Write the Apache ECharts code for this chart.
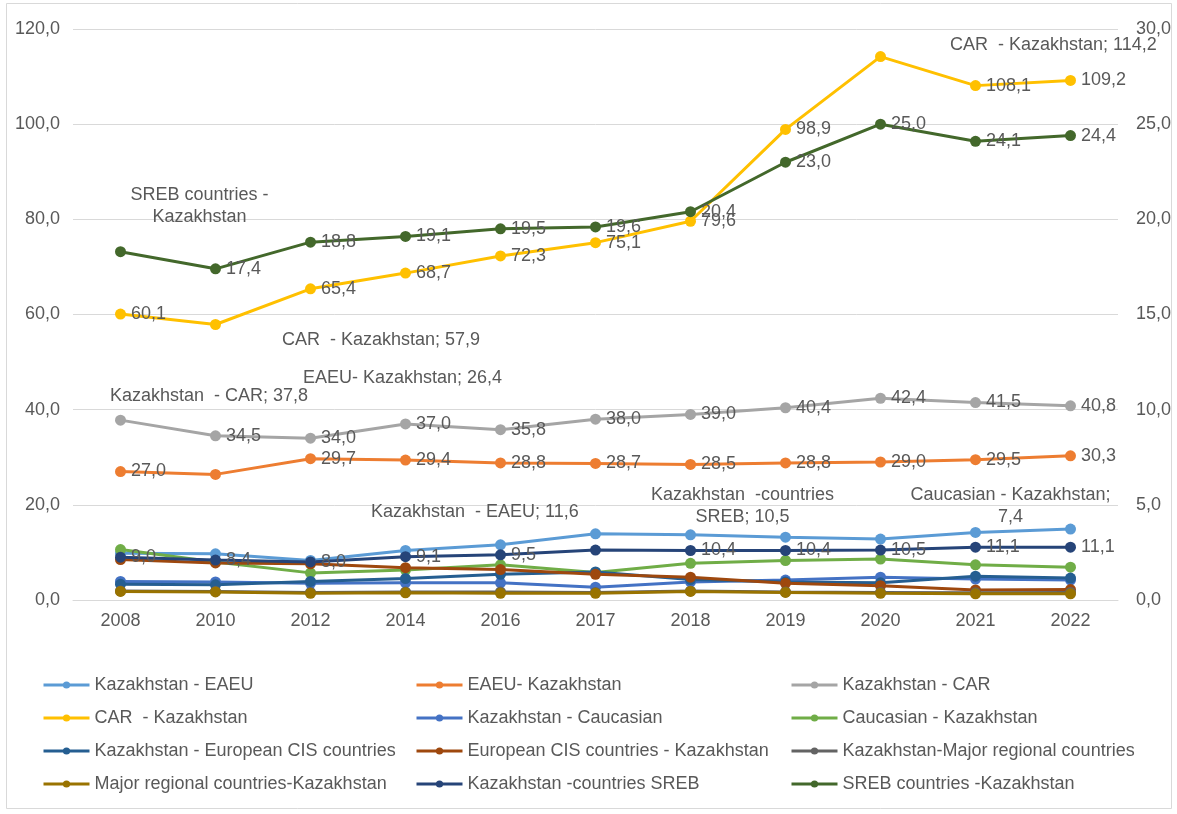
<!DOCTYPE html>
<html>
<head>
<meta charset="utf-8">
<script src="https://cdn.jsdelivr.net/npm/echarts@6/dist/echarts.min.js"></script>
<style>
html,body{margin:0;padding:0;background:#fff;}
#c{width:1177px;height:814px;}
</style>
</head>
<body>
<div id="c"></div>
<script>
const years = ['2008','2010','2012','2014','2016','2017','2018','2019','2020','2021','2022'];
const leftTicks = [0, 20, 40, 60, 80, 100, 120];
const rightTicks = [0, 5, 10, 15, 20, 25, 30];

const kzEAEU   = [9.8, 9.7, 8.3, 10.4, 11.6, 13.9, 13.7, 13.2, 12.8, 14.2, 14.9];
const eaeuKZ   = [27.0, 26.4, 29.7, 29.4, 28.8, 28.7, 28.5, 28.8, 29.0, 29.5, 30.3];
const kzCAR    = [37.8, 34.5, 34.0, 37.0, 35.8, 38.0, 39.0, 40.4, 42.4, 41.5, 40.8];
const carKZ    = [60.1, 57.9, 65.4, 68.7, 72.3, 75.1, 79.6, 98.9, 114.2, 108.1, 109.2];
const kzCauc   = [3.9, 3.8, 3.5, 3.6, 3.6, 2.7, 3.8, 4.2, 4.8, 4.4, 4.2];
const caucKZ   = [10.6, 8.0, 5.7, 6.3, 7.4, 5.8, 7.7, 8.3, 8.6, 7.4, 6.9];
const kzEurCIS = [3.3, 3.2, 3.9, 4.5, 5.4, 5.9, 4.3, 3.8, 3.6, 5.0, 4.6];
const eurCISKZ = [8.5, 7.8, 7.6, 6.8, 6.4, 5.4, 4.8, 3.5, 3.0, 2.1, 2.2];
const kzMajor  = [1.9, 1.8, 1.6, 1.7, 1.7, 1.6, 1.9, 1.7, 1.6, 1.5, 1.6];
const majorKZ  = [1.8, 1.7, 1.4, 1.5, 1.4, 1.4, 1.8, 1.6, 1.4, 1.3, 1.3];
const kzSREB   = [9.0, 8.4, 8.0, 9.1, 9.5, 10.5, 10.4, 10.4, 10.5, 11.1, 11.1];
const srebKZ   = [18.3, 17.4, 18.8, 19.1, 19.5, 19.6, 20.4, 23.0, 25.0, 24.1, 24.4];

const fmt = v => v.toFixed(1).replace('.', ',');
const TXT = '#595959';
const FONT = '"Liberation Sans", Arial, sans-serif';
const FS = 18;

// series definitions: name, data, color, axis, showLabels
const seriesDefs = [
  ['Kazakhstan - EAEU', kzEAEU, '#5B9BD5', 0, false],
  ['EAEU- Kazakhstan', eaeuKZ, '#ED7D31', 0, true],
  ['Kazakhstan - CAR', kzCAR, '#A5A5A5', 0, true],
  ['CAR  - Kazakhstan', carKZ, '#FFC000', 0, true],
  ['Kazakhstan - Caucasian', kzCauc, '#4472C4', 0, false],
  ['Caucasian - Kazakhstan', caucKZ, '#70AD47', 0, false],
  ['Kazakhstan - European CIS countries', kzEurCIS, '#255E91', 0, false],
  ['European CIS countries - Kazakhstan', eurCISKZ, '#9E480E', 0, false],
  ['Kazakhstan-Major regional countries', kzMajor, '#636363', 0, false],
  ['Major regional countries-Kazakhstan', majorKZ, '#997300', 0, false],
  ['Kazakhstan -countries SREB', kzSREB, '#264478', 0, true],
  ['SREB countries -Kazakhstan', srebKZ, '#43682B', 1, true]
];

// special labels: series name -> {index: {text, position, offset}}
const special = {
  'SREB countries -Kazakhstan': {0: {text: 'SREB countries -\nKazakhstan', position: 'top', offset: [79, -13]}},
  'CAR  - Kazakhstan': {
    1: {text: 'CAR  - Kazakhstan; 57,9', position: 'right', offset: [56, 16]},
    8: {text: 'CAR  - Kazakhstan; 114,2', position: 'right', offset: [59, -12]}
  },
  'Kazakhstan - CAR': {0: {text: 'Kazakhstan  - CAR; 37,8', position: 'right', offset: [-21, -24]}},
  'EAEU- Kazakhstan': {1: {text: 'EAEU- Kazakhstan; 26,4', position: 'right', offset: [77, -96]}},
  'Kazakhstan -countries SREB': {5: {text: 'Kazakhstan  -countries\nSREB; 10,5', position: 'top', offset: [147, -12]}},
  'Kazakhstan - EAEU': {4: {text: 'Kazakhstan  - EAEU; 11,6', position: 'right', offset: [-140, -33]}},
  'Caucasian - Kazakhstan': {9: {text: 'Caucasian - Kazakhstan;\n7,4', position: 'top', offset: [35, -26]}}
};

const series = seriesDefs.map(([name, data, color, axis, showAll]) => {
  const sp = special[name] || {};
  return {
    name, type: 'line', yAxisIndex: axis,
    symbol: 'circle', symbolSize: 11,
    lineStyle: {color, width: 3},
    itemStyle: {color},
    emphasis: {disabled: true},
    animation: false,
    label: {
      show: showAll, position: 'right', distance: 5,
      color: TXT, fontSize: FS, fontFamily: FONT,
      formatter: p => fmt(p.value)
    },
    data: data.map((v, i) => {
      const s = sp[i];
      if (!s) return v;
      return {value: v, label: {show: true, position: s.position, offset: s.offset,
        align: s.position === 'right' ? 'left' : 'center', lineHeight: 22, formatter: s.text}};
    })
  };
});

const names = seriesDefs.map(d => d[0]);
const col = k => [names[k], names[k + 3], names[k + 6], names[k + 9]];
const legendBase = {
  orient: 'vertical', top: 670, itemWidth: 46, itemHeight: 9, itemGap: 13,
  lineStyle: {width: 3},
  textStyle: {color: TXT, fontSize: FS, fontFamily: FONT, lineHeight: 20},
  selectedMode: false
};

const chart = echarts.init(document.getElementById('c'), null, {renderer: 'canvas'});
chart.setOption({
  backgroundColor: '#fff',
  animation: false,
  graphic: [{type: 'rect', shape: {x: 6.5, y: 3.5, width: 1165, height: 805},
    style: {fill: 'none', stroke: '#d9d9d9', lineWidth: 1}, silent: true, z: -1}],
  grid: {left: 73, right: 59, top: 29, bottom: 214},
  legend: [
    Object.assign({}, legendBase, {left: 37, data: col(0)}),
    Object.assign({}, legendBase, {left: 410, data: col(1)}),
    Object.assign({}, legendBase, {left: 785, data: col(2)})
  ],
  xAxis: {
    type: 'category', data: years, boundaryGap: true,
    axisLine: {lineStyle: {color: '#d9d9d9', width: 1}},
    axisTick: {show: false},
    axisLabel: {color: TXT, fontSize: FS, fontFamily: FONT, margin: 12}
  },
  yAxis: [
    {type: 'value', min: leftTicks[0], max: leftTicks[leftTicks.length - 1], interval: leftTicks[1] - leftTicks[0],
     axisLine: {show: false}, axisTick: {show: false},
     splitLine: {lineStyle: {color: '#d9d9d9', width: 1}},
     axisLabel: {color: TXT, fontSize: FS, fontFamily: FONT, margin: 13, formatter: v => fmt(v)}},
    {type: 'value', min: rightTicks[0], max: rightTicks[rightTicks.length - 1], interval: rightTicks[1] - rightTicks[0],
     axisLine: {show: false}, axisTick: {show: false}, splitLine: {show: false},
     axisLabel: {color: TXT, fontSize: FS, fontFamily: FONT, margin: 18, formatter: v => fmt(v)}}
  ],
  series
});
</script>
</body>
</html>
